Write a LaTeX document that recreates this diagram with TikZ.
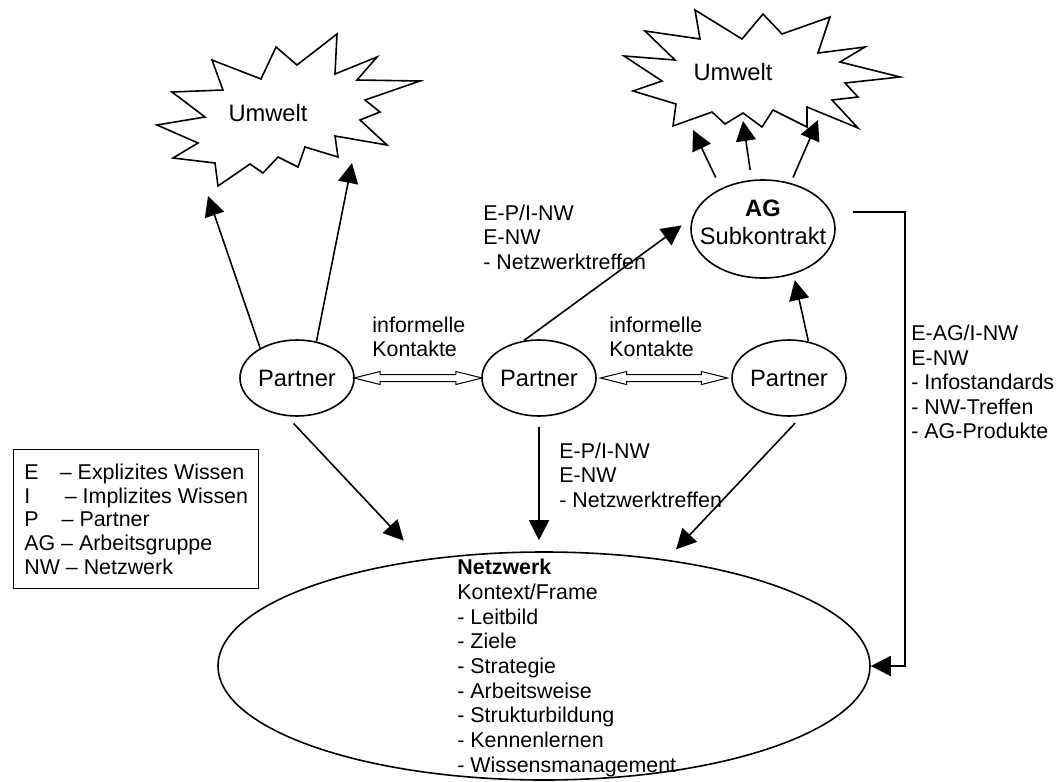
\documentclass[tikz,border=0pt]{standalone}
\usepackage{fontspec}
\setmainfont{Liberation Sans}
\usepackage{tikz}
\usetikzlibrary{
    arrows.meta,
    shapes,
    shapes.arrows,
    calc,
    positioning
}
\tikzset{gross/.style={font=\fontsize{11.85pt}{14pt}\selectfont}}
\tikzset{knoten/.style={ellipse, draw, line width=0.8pt, inner sep=0pt, minimum width=57pt, minimum height=38pt, gross}}
\tikzset{pfeil/.style={-{Triangle[length=10pt, width=10pt]}, line width=0.8pt}}
\tikzset{beschr/.style={align=left, inner sep=0pt, anchor=west, font=\fontsize{10.7pt}{12.2pt}\selectfont}}
\tikzset{kontakt/.style={double arrow, draw, line width=0.5pt, inner sep=1.5pt, double arrow head extend=1.5pt, double arrow tip angle=28}}
\tikzset{wolke/.style={line width=0.8pt, line join=miter}}

\begin{document}
\begin{tikzpicture}[x=0.5pt, y=-0.5pt]
                        \useasboundingbox (0, 0) rectangle (1061, 782);

                        \draw[wolke] (337, 34) -- (297, 65) -- (276, 47) -- (261, 79) -- (212, 60) -- (223, 90) -- (172, 92)
                        -- (205, 117) -- (157, 125) -- (198, 143) -- (173, 158) -- (215, 163) -- (218, 186) -- (250, 164)
                        -- (263, 173) -- (278, 157) -- (298, 167) -- (305, 147) -- (338, 157) -- (335, 136) -- (387, 145)
                        -- (360, 120) -- (380, 112) -- (365, 100) -- (420, 81) -- (357, 80) -- (377, 57) -- (335, 74) -- cycle;
                        \node[gross] (umweltl) at (268, 113) {Umwelt};

                        \draw[wolke] (695, 10) -- (700, 39) -- (645, 31) -- (675, 60) -- (624, 56) -- (662, 81) -- (633, 91)
                        -- (676, 104) -- (673, 126) -- (712, 112) -- (725, 124) -- (743, 113) -- (762, 127) -- (773, 110)
                        -- (807, 127) -- (807, 107) -- (858, 128) -- (832, 100) -- (858, 97) -- (845, 83) -- (900, 77)
                        -- (840, 62) -- (865, 47) -- (818, 53) -- (830, 17) -- (782, 34) -- (763, 14) -- (742, 39) -- cycle;
                        \node[gross] (umweltr) at (733, 72) {Umwelt};

                        \coordinate (umlA) at (208, 196);
                        \coordinate (umlB) at (352, 163);
                        \coordinate (umrA) at (693, 130);
                        \coordinate (umrB) at (743, 121);
                        \coordinate (umrC) at (818, 120);

                        \node[knoten] (pl) at (297, 378) {Partner};
                        \node[knoten] (pm) at (539, 378) {Partner};
                        \node[knoten] (pr) at (789, 378) {Partner};
                        \node[knoten, minimum width=72pt, minimum height=49pt] (ag) at (763, 229) {};
                        \node[gross, align=center] (agtext) at (763, 222) {\textbf{AG}\\Subkontrakt};
                        \node[knoten, minimum width=326pt, minimum height=114pt] (nw) at (544, 666) {};
                        \node[beschr, font=\fontsize{10.7pt}{12.35pt}\selectfont] (nwtext) at (457, 668)
                        {\textbf{Netzwerk}\\Kontext/Frame\\- Leitbild\\- Ziele\\- Strategie\\- Arbeitsweise\\- Strukturbildung\\- Kennenlernen\\- Wissensmanagement};

                        \node[kontakt, minimum height=64pt] (kontaktl) at ($(pl.east)!0.5!(pm.west)$) {};
                        \node[kontakt, minimum height=63.5pt] (kontaktr) at ($(pm.east)!0.5!(pr.west)$) {};
                        \node[beschr] (infol) at (372, 337) {informelle\\Kontakte};
                        \node[beschr] (infor) at (609, 337) {informelle\\Kontakte};

                        \draw[pfeil] (pl.141) -- (umlA);
                        \draw[pfeil] (pl.62) -- (umlB);
                        \draw[pfeil, shorten <=6pt] (ag.136) -- (umrA);
                        \draw[pfeil, shorten <=5pt] (ag.103) -- (umrB);
                        \draw[pfeil, shorten <=3pt] (ag.59) -- (umrC);

                        \draw[pfeil, shorten >=6.5pt] (pm.112) -- (ag.171);
                        \draw[pfeil, shorten >=3pt] (pr.62) -- (ag.304);

                        \draw[pfeil, shorten <=5pt, shorten >=13pt] (pl.255) -- (nw.139);
                        \draw[pfeil, shorten <=5pt, shorten >=5.5pt] (pm.south) -- (pm.south |- nw.north);
                        \draw[pfeil, shorten <=5pt, shorten >=7pt] (pr.289) -- (nw.41);
                        \draw[pfeil] ([shift={(17, -17)}]ag.east) -- ++(52, 0) |- (nw.east);

                        \node[beschr] (agpm) at (483, 237) {E-P/I-NW\\E-NW\\- Netzwerktreffen};
                        \node[beschr] (nwpm) at (559, 475) {E-P/I-NW\\E-NW\\- Netzwerktreffen};
                        \node[beschr] (nwag) at (911, 382) {E-AG/I-NW\\E-NW\\- Infostandards\\- NW-Treffen\\- AG-Produkte};

                        \node[draw, line width=0.7pt, anchor=north west, minimum width=122.5pt, minimum height=69.5pt,
                        align=left, font=\fontsize{10.7pt}{11.85pt}\selectfont] (legende) at (13, 449)
                        {\makebox[14.8pt][l]{E} -- Explizites Wissen\\\makebox[17.3pt][l]{I} -- Implizites Wissen\\\makebox[15.7pt][l]{P} -- Partner\\AG -- Arbeitsgruppe\\NW -- Netzwerk};
                    \end{tikzpicture}
\end{document}
